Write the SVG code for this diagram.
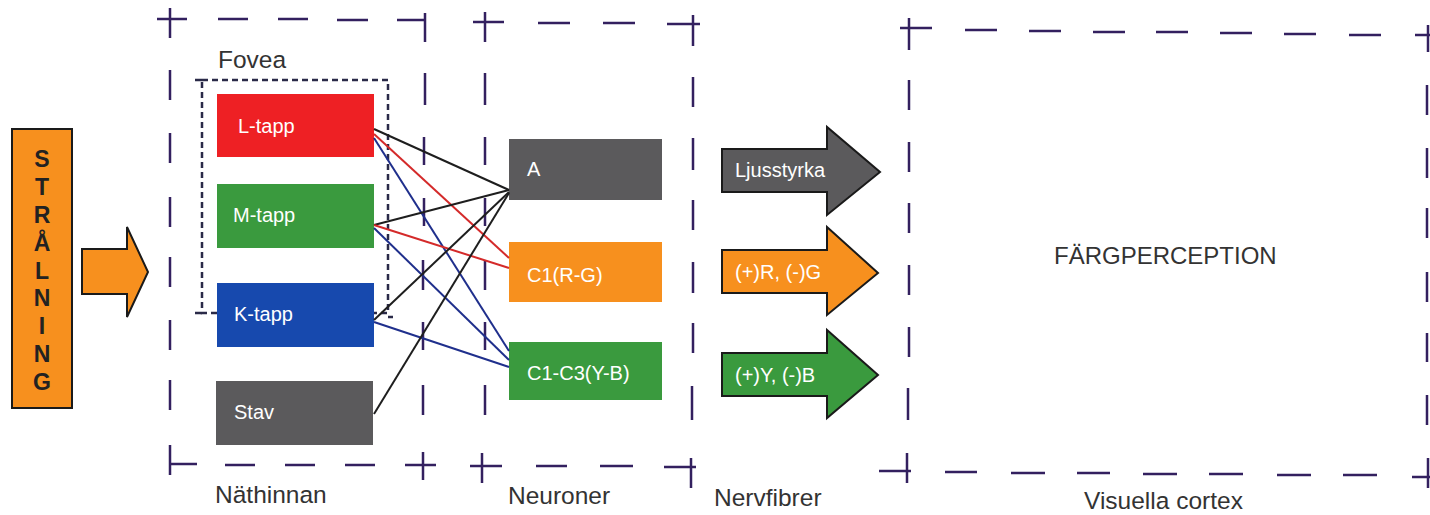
<svg xmlns="http://www.w3.org/2000/svg" width="1430" height="515" viewBox="0 0 1430 515">
<style>
.db{fill:none;stroke:#33205f;stroke-width:2.5;stroke-linecap:butt}
.lbl{font-family:"Liberation Sans",Arial,sans-serif;font-size:24.5px;fill:#333}
.wt{font-family:"Liberation Sans",Arial,sans-serif;font-size:20px;fill:#fff}
.st{font-family:"Liberation Sans",Arial,sans-serif;font-size:23px;font-weight:bold;fill:#222;text-anchor:middle}
.ar{stroke:#1a1a1a;stroke-width:2;stroke-linejoin:miter}
.cn{fill:none;stroke-width:2}
</style>
<rect width="1430" height="515" fill="#fff"/>

<!-- Dashed frames -->
<g id="nathinnan-frame">
<path class="db" d="M157 19 H187 M170 8 V38 M218 19 H248 M278 19 H308 M337 20 H368 M397 20 H425 M425 13 V42
M170 70 V100 M170 133 V163 M170 197 V227 M170 257 V287 M170 320 V350 M170 380 V410
M170 445 V475 M170 464 H197 M225 465 H255 M285 465 H315 M345 465 H375 M405 465 H436 M423 452 V480
M425 73 V105 M424 137 V165 M424 198 V226 M423 260 V290 M423 322 V350 M423 385 V415"/>
<text class="lbl" x="215" y="503">Näthinnan</text>
</g>
<g id="neuroner-frame">
<path class="db" d="M473 22 H504 M485 12 V42 M538 23 H570 M603 23 H635 M667 24 H700 M693 15 V46
M485 73 V105 M485 137 V165 M485 198 V226 M485 260 V290 M485 322 V350 M485 385 V415
M470 466 H502 M482 453 V483 M536 466 H567 M600 466 H633 M664 467 H696 M691 458 V488
M693 77 V107 M693 138 V170 M693 200 V230 M693 262 V293 M693 323 V353 M692 386 V420"/>
<text class="lbl" x="508" y="504">Neuroner</text>
</g>
<g id="nervfibrer-label">
<text class="lbl" x="714" y="506">Nervfibrer</text>
</g>
<g id="visuella-frame">
<path class="db" d="M900 28 H932 M909 18 V50 M965 30 H997 M1029 31 H1061 M1093 32 H1125 M1156 32 H1188 M1220 33 H1252 M1284 34 H1316 M1349 35 H1381 M1415 35 H1430 M1428 25 V52
M909 80 V110 M909 142 V172 M909 203 V233 M909 265 V295 M909 327 V357 M908 388 V420
M879 471 H911 M907 453 V483 M945 472 H977 M1011 473 H1045 M1077 473 H1110 M1143 474 H1177 M1209 474 H1243 M1277 475 H1311 M1343 475 H1377 M1412 477 H1430 M1428 458 V488
M1427 85 V115 M1427 148 V178 M1427 208 V238 M1427 272 V302 M1427 333 V362 M1427 395 V425"/>
<text class="lbl" x="1084" y="509">Visuella cortex</text>
<text class="lbl" x="1054" y="264" style="font-size:24px">FÄRGPERCEPTION</text>
</g>

<!-- Stralning -->
<g id="stralning">
<rect x="12" y="129" width="60" height="279" fill="#F7901E" stroke="#1a1a1a" stroke-width="2"/>
<text class="st" x="42" y="167">S</text>
<text class="st" x="42" y="195">T</text>
<text class="st" x="42" y="223">R</text>
<text class="st" x="42" y="251">Å</text>
<text class="st" x="42" y="279">L</text>
<text class="st" x="42" y="306">N</text>
<text class="st" x="42" y="334">I</text>
<text class="st" x="42" y="362">N</text>
<text class="st" x="42" y="390">G</text>
</g>
<g id="stralning-arrow">
<path class="ar" d="M82 249 H127 V227 L148 272 L127 317 V294 H82 Z" fill="#F7901E"/>
</g>

<!-- Fovea -->
<g id="fovea">
<rect x="202" y="80" width="186" height="233" fill="none" stroke="#2a2a48" stroke-width="2.5" stroke-dasharray="6 4"/>
<path d="M195 80 H202 M195 313 H202 M388 317 H393" fill="none" stroke="#2a2a48" stroke-width="2.5"/>
<text class="lbl" x="218" y="68">Fovea</text>
</g>

<!-- Receptors -->
<g id="l-tapp"><rect x="217" y="94" width="157" height="63" fill="#EE2024"/><text class="wt" x="238" y="133">L-tapp</text></g>
<g id="m-tapp"><rect x="217" y="184" width="157" height="64" fill="#3A9A3E"/><text class="wt" x="233" y="222">M-tapp</text></g>
<g id="k-tapp"><rect x="217" y="283" width="157" height="64" fill="#1749AE"/><text class="wt" x="234" y="321">K-tapp</text></g>
<g id="stav"><rect x="216" y="381" width="157" height="64" fill="#5B5A5C"/><text class="wt" x="234" y="419">Stav</text></g>

<!-- Neurons -->
<g id="a"><rect x="509" y="139" width="153" height="61" fill="#5B5A5C"/><text class="wt" x="527" y="176">A</text></g>
<g id="c1rg"><rect x="509" y="242" width="153" height="60" fill="#F7901E"/><text class="wt" x="527" y="282">C1(R-G)</text></g>
<g id="c1c3yb"><rect x="509" y="342" width="153" height="58" fill="#3A9A3E"/><text class="wt" x="527" y="380">C1-C3(Y-B)</text></g>

<!-- Nerve fibre arrows -->
<g id="ljusstyrka"><path class="ar" d="M722 149 H827 V127 L880 172 L827 215 V192 H722 Z" fill="#5B5A5C"/><text class="wt" x="735" y="177">Ljusstyrka</text></g>
<g id="rg-arrow"><path class="ar" d="M722 250 H827 V227 L878 273 L827 315 V293 H722 Z" fill="#F7901E"/><text class="wt" x="735" y="279">(+)R, (-)G</text></g>
<g id="yb-arrow"><path class="ar" d="M722 353 H827 V330 L878 375 L827 418 V396 H722 Z" fill="#3A9A3E"/><text class="wt" x="735" y="382">(+)Y, (-)B</text></g>

<!-- Connectors -->
<g id="connectors">
<line class="cn" stroke="#1e1e1e" x1="374" y1="129" x2="509" y2="190"/>
<line class="cn" stroke="#D42A2A" x1="374" y1="134" x2="509" y2="258"/>
<line class="cn" stroke="#1F2F8C" x1="374" y1="138" x2="509" y2="351"/>
<line class="cn" stroke="#1e1e1e" x1="374" y1="225" x2="509" y2="190"/>
<line class="cn" stroke="#D42A2A" x1="374" y1="225" x2="509" y2="268"/>
<line class="cn" stroke="#1F2F8C" x1="374" y1="228" x2="509" y2="360"/>
<line class="cn" stroke="#1e1e1e" x1="374" y1="320" x2="509" y2="192"/>
<line class="cn" stroke="#1F2F8C" x1="374" y1="322" x2="509" y2="367"/>
<line class="cn" stroke="#1e1e1e" x1="374" y1="414" x2="509" y2="193"/>
</g>
</svg>
